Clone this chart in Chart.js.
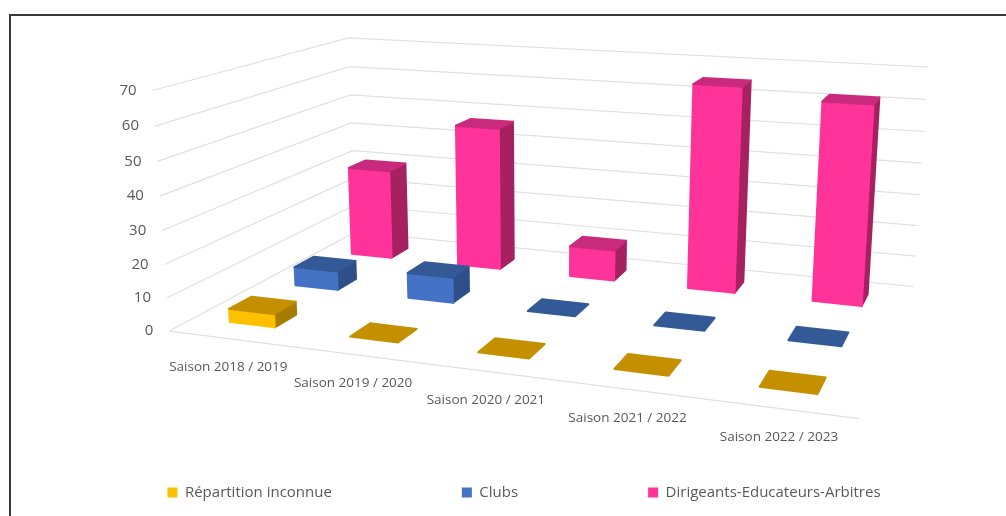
<!DOCTYPE html>
<html lang="fr">
<head>
<meta charset="utf-8">
<script src="https://cdn.jsdelivr.net/npm/chart.js@4"></script>
<style>
html,body{margin:0;padding:0;background:#fff;width:1006px;height:516px;overflow:hidden}
#frame{position:absolute;left:9px;top:14px;right:-4px;bottom:-4px;border:2px solid #3a3a3a;box-sizing:border-box}
canvas{position:absolute;left:0;top:0}
</style>
</head>
<body>
<div id="frame"></div>
<canvas id="c" width="1006" height="516"></canvas>
<script>
const categories = ['Saison 2018 / 2019','Saison 2019 / 2020','Saison 2020 / 2021','Saison 2021 / 2022','Saison 2022 / 2023'];
const inconnue = [4,0,0,0,0];
const clubs = [6,8,0,0,0];
const dirigeants = [30,47,10,65,62];

// Projection of the chart box (u along categories, v depth, w height) to the page
const calib = [
 [0,0,0,169,330],[0,0,1,152.7,91],[0,1,0,355.3,233.3],[0,1,1,348.3,37.3],
 [1,1,0,913.3,285.7],[1,1,1,928.3,67.3],[1,0,0,859.3,419.3]
];
function solveCamera(){
  const A=[],b=[];
  calib.forEach(([u,v,w,x,y])=>{
    A.push([u,v,w,1,0,0,0,0,-x*u,-x*v,-x*w]);b.push(x);
    A.push([0,0,0,0,u,v,w,1,-y*u,-y*v,-y*w]);b.push(y);
  });
  const n=11,M=[];
  for(let i=0;i<n;i++){
    const r=new Array(n+1).fill(0);
    for(let k=0;k<A.length;k++){for(let j=0;j<n;j++)r[j]+=A[k][i]*A[k][j];r[n]+=A[k][i]*b[k];}
    M.push(r);
  }
  for(let i=0;i<n;i++){
    let p=i;for(let r=i+1;r<n;r++)if(Math.abs(M[r][i])>Math.abs(M[p][i]))p=r;
    [M[i],M[p]]=[M[p],M[i]];
    for(let r=0;r<n;r++){if(r===i)continue;const f=M[r][i]/M[i][i];for(let j=i;j<=n;j++)M[r][j]-=f*M[i][j];}
  }
  return M.map((r,i)=>r[n]/r[i]);
}
const P=solveCamera();
function proj(u,v,w){
  const d=P[8]*u+P[9]*v+P[10]*w+1;
  return [(P[0]*u+P[1]*v+P[2]*w+P[3])/d,(P[4]*u+P[5]*v+P[6]*w+P[7])/d];
}
const frac=(sc,val)=>sc.getDecimalForPixel(sc.getPixelForValue(val));

const styles = [
 {front:'#FFC000',side:'#A67D00',top:'#C49000'},
 {front:'#4472C4',side:'#2E4F88',top:'#335A96'},
 {front:'#FF3399',side:'#A6215F',top:'#C92A7E'}
];
const uHalf=0.038, uShift=-0.0015, vHalf=0.054;

function poly(ctx,pts,color){
  ctx.beginPath();
  pts.forEach((p,i)=>i?ctx.lineTo(p[0],p[1]):ctx.moveTo(p[0],p[1]));
  ctx.closePath();
  ctx.fillStyle=color;ctx.strokeStyle=color;ctx.lineWidth=2;ctx.lineJoin='round';
  ctx.fill();ctx.stroke();
}

const box3d={
  id:'box3d',
  afterLayout(chart){
    const xs=chart.scales.x, ys=chart.scales.y, area=chart.chartArea;
    ys.getLabelItems(area).forEach((it,i)=>{
      const p=proj(0,0,frac(ys,ys.ticks[i].value));
      it.options.translation=[p[0]-16,p[1]];
      it.options.textAlign='right';it.options.textBaseline='middle';it.textOffset=0;
    });
    xs.getLabelItems(area).forEach((it,i)=>{
      const p=proj(frac(xs,i),0,0);
      it.options.translation=[p[0]-0.5,p[1]+28.5];
      it.options.textAlign='center';it.options.textBaseline='middle';it.textOffset=0;
    });
    const lg=chart.legend;
    const pad=lg.options.labels.padding;
    lg.top=485-pad; lg.bottom=lg.top+lg.height;
    lg.left+=21; lg.right+=21;
  },
  beforeDatasetsDraw(chart){
    const ctx=chart.ctx, xs=chart.scales.x, ys=chart.scales.y;
    ctx.save();
    ctx.lineWidth=1.2;ctx.strokeStyle='#E0E0E0';
    ys.ticks.forEach(t=>{
      const w=frac(ys,t.value);
      const a=proj(0,0,w),b=proj(0,1,w),c=proj(1,1,w);
      ctx.beginPath();ctx.moveTo(a[0],a[1]);ctx.lineTo(b[0],b[1]);ctx.lineTo(c[0],c[1]);ctx.stroke();
    });
    const f=proj(0,0,0),g=proj(1,0,0);
    ctx.beginPath();ctx.moveTo(f[0],f[1]);ctx.lineTo(g[0],g[1]);ctx.stroke();
    const n=chart.data.datasets.length, m=categories.length;
    for(let s=n-1;s>=0;s--){
      const meta=chart.getDatasetMeta(s), st=styles[s];
      const vc=(s+0.5)/n;
      for(let i=0;i<m;i++){
        const uc=frac(xs,i)+uShift;
        const w=frac(ys,meta.controller.getParsed(i).y);
        const u0=uc-uHalf,u1=uc+uHalf,v0=vc-vHalf,v1=vc+vHalf;
        if(w>0){
          poly(ctx,[proj(u1,v0,0),proj(u1,v1,0),proj(u1,v1,w),proj(u1,v0,w)],st.side);
          poly(ctx,[proj(u0,v0,0),proj(u1,v0,0),proj(u1,v0,w),proj(u0,v0,w)],st.front);
        }
        poly(ctx,[proj(u0,v0,w),proj(u1,v0,w),proj(u1,v1,w),proj(u0,v1,w)],st.top);
      }
    }
    ctx.restore();
    return false;
  }
};

const fontFamily='"Open Sans", sans-serif';
new Chart(document.getElementById('c'),{
  type:'bar',
  data:{
    labels:categories,
    datasets:[
      {label:'Répartition inconnue',data:inconnue,backgroundColor:styles[0].front},
      {label:'Clubs',data:clubs,backgroundColor:styles[1].front},
      {label:'Dirigeants-Educateurs-Arbitres',data:dirigeants,backgroundColor:styles[2].front}
    ]
  },
  options:{
    responsive:false,animation:false,devicePixelRatio:1,
    layout:{padding:0},
    plugins:{
      title:{display:false},tooltip:{enabled:false},
      legend:{
        position:'bottom',
        labels:{boxWidth:10,boxHeight:10,padding:130,color:'#595959',font:{family:fontFamily,size:15}}
      }
    },
    scales:{
      x:{grid:{display:false},border:{display:false},
         ticks:{mirror:true,autoSkip:false,maxRotation:0,minRotation:0,color:'#595959',font:{family:fontFamily,size:13.5}}},
      y:{min:0,max:70,grid:{display:false},border:{display:false},
         ticks:{mirror:true,stepSize:10,autoSkip:false,color:'#595959',font:{family:fontFamily,size:15}}}
    }
  },
  plugins:[box3d]
});
</script>
</body>
</html>
